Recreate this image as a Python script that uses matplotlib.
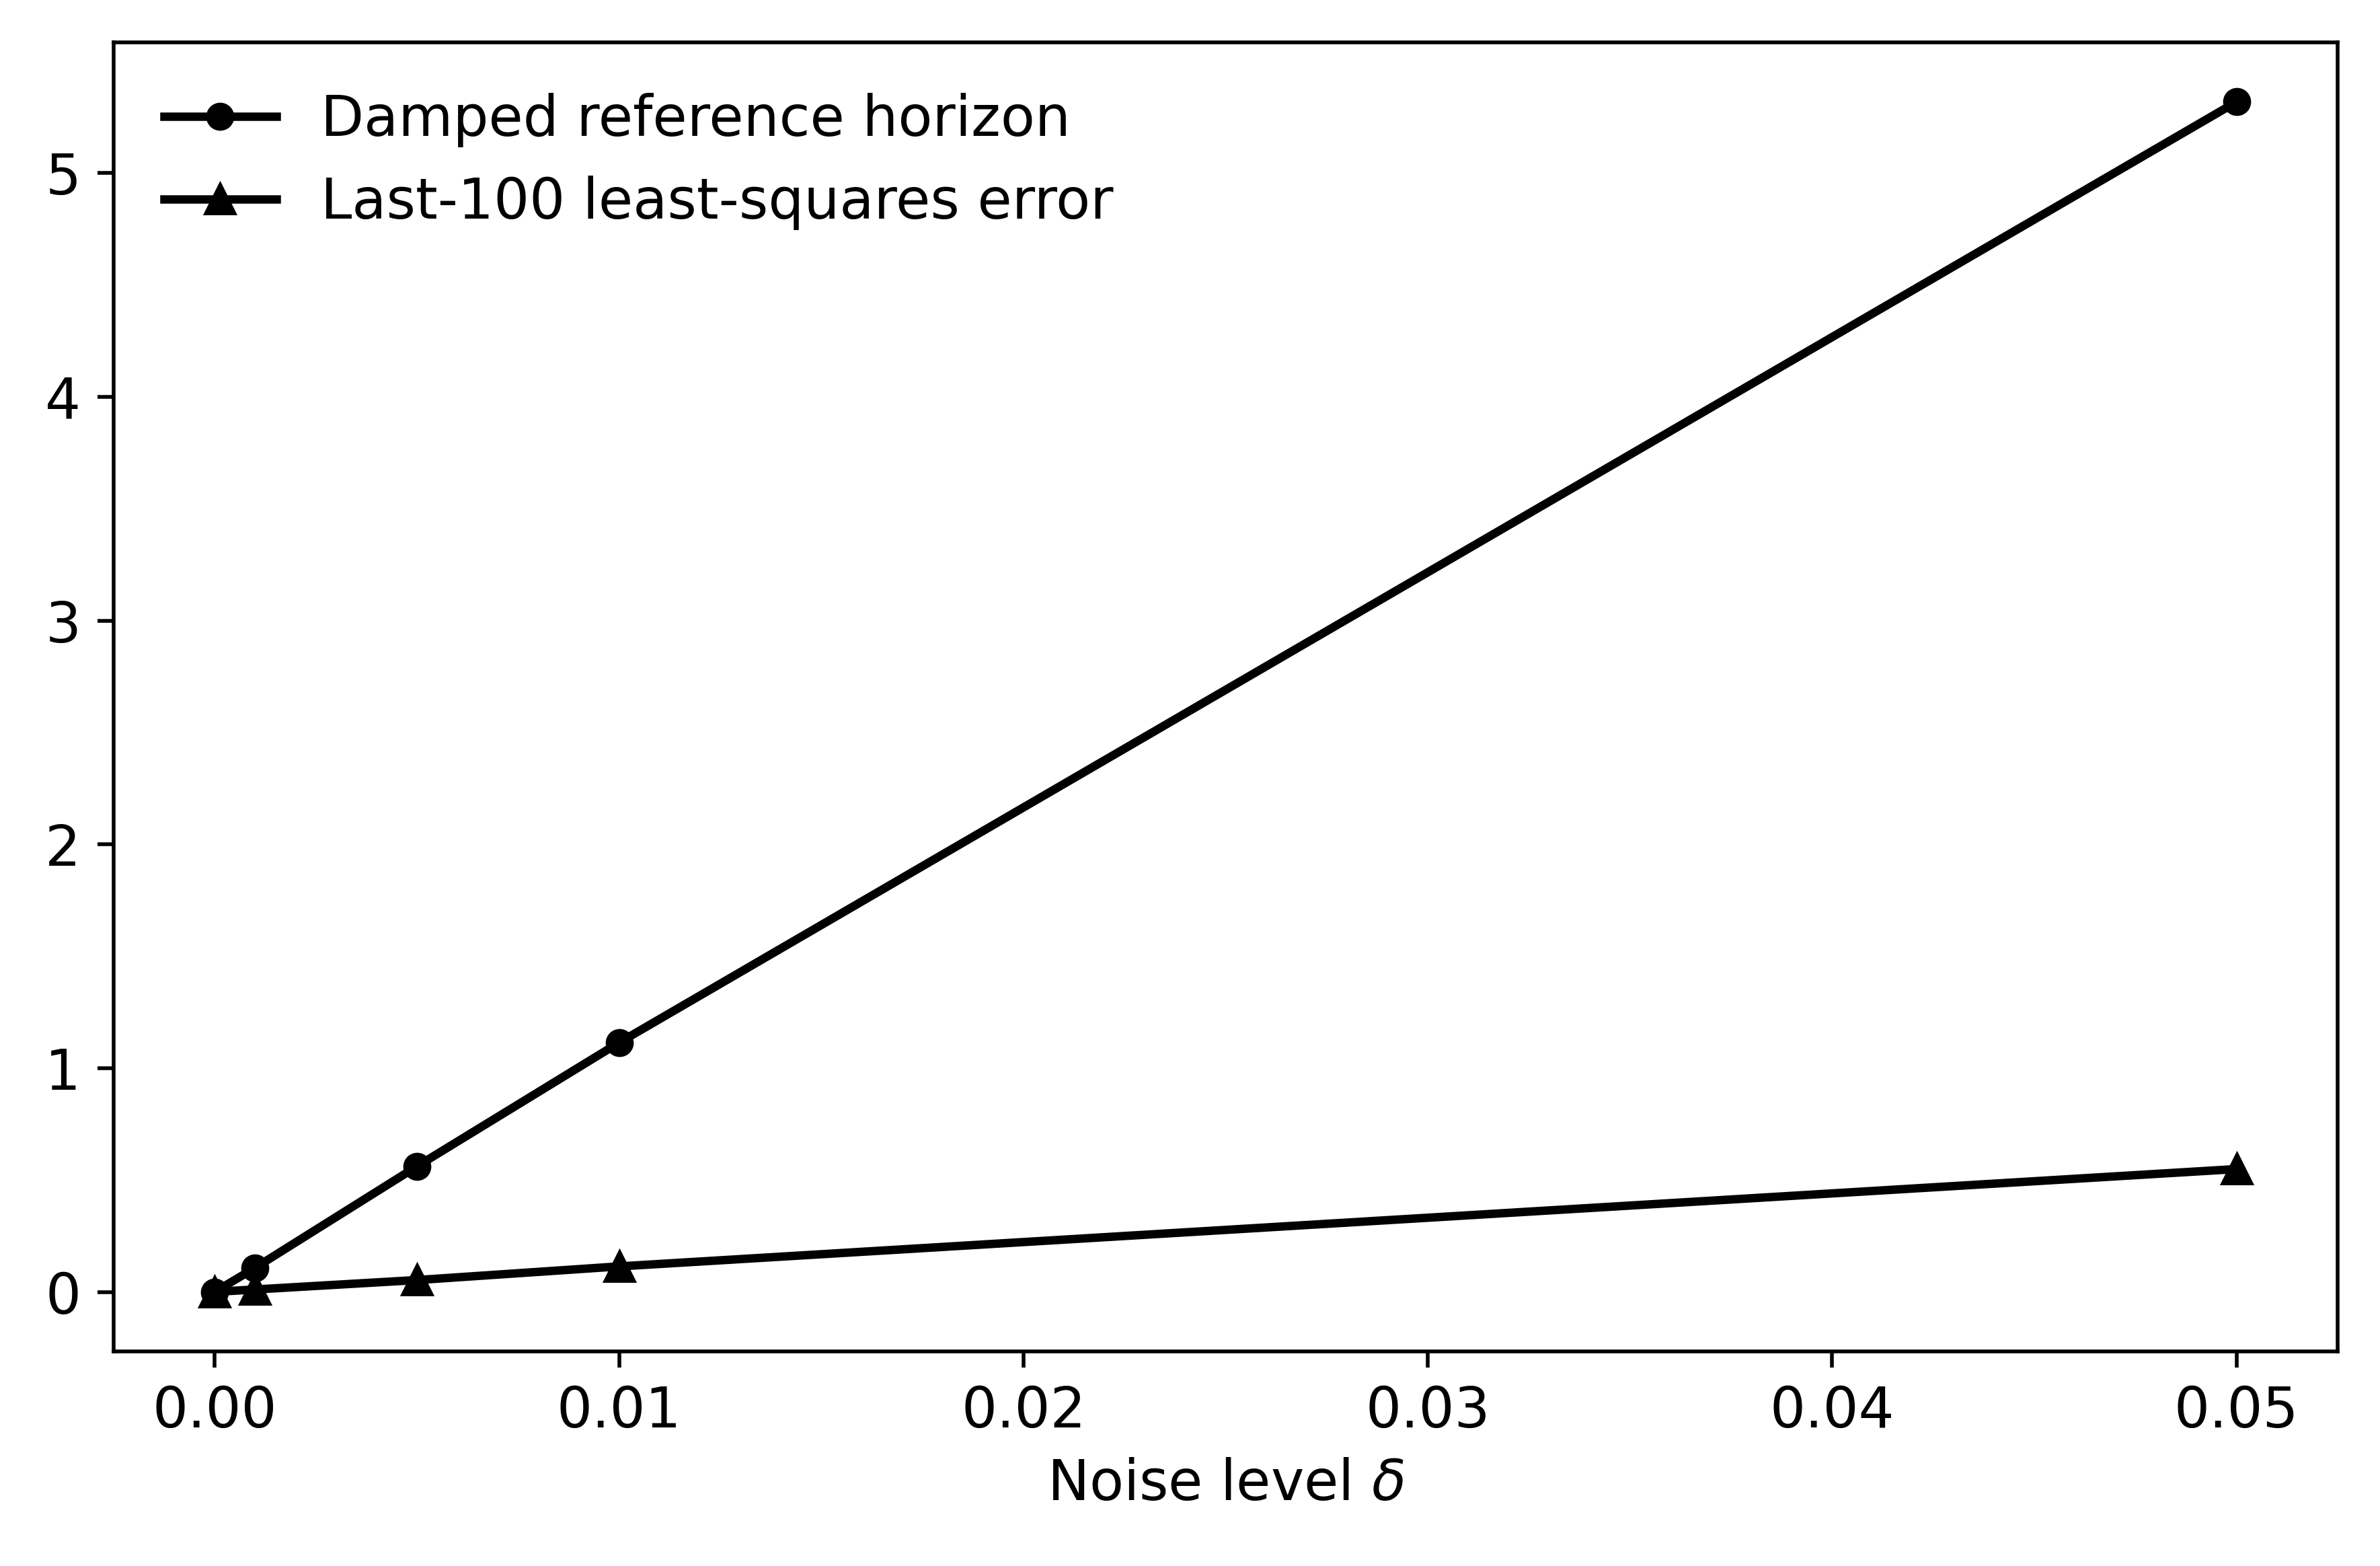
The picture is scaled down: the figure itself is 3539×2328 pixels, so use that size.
import numpy as np
import matplotlib
matplotlib.use('Agg')
import matplotlib.pyplot as plt

plt.rcParams['font.size'] = 12

# noise levels and measured quantities
noise = [0.0, 0.001, 0.005, 0.01, 0.05]
horizon = [0.0, 0.108, 0.561, 1.114, 5.318]
ls_error = [0.0, 0.011, 0.053, 0.114, 0.549]

fig = plt.figure(figsize=(3539 / 500, 2328 / 500), dpi=500)
ax = fig.add_axes([169 / 3539, 1 - 2009 / 2328, (3476 - 169) / 3539, (2009 - 63) / 2328])

ax.plot(noise, horizon, color='black', marker='o', lw=1.8, ms=5, label='Damped reference horizon')
ax.plot(noise, ls_error, color='black', marker='^', lw=1.8, ms=5.8, label='Last-100 least-squares error')

ax.set_xlabel(r'Noise level $\delta$')
ax.legend(frameon=False, loc='upper left')

fig.savefig('out.png', dpi=500)
